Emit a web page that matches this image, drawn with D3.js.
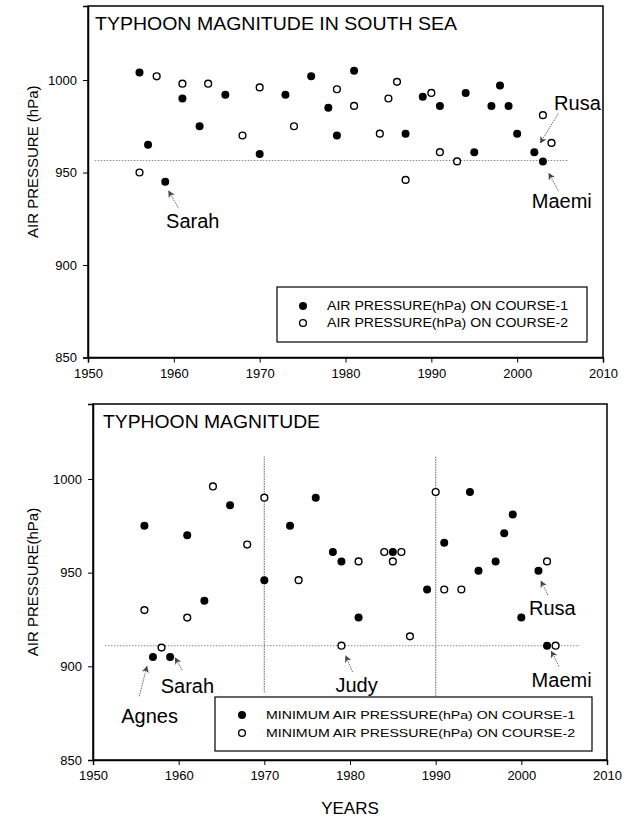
<!DOCTYPE html>
<html><head><meta charset="utf-8">
<script src="https://cdn.jsdelivr.net/npm/d3@7"></script>
<style>body{margin:0;background:#fff}svg{display:block}text{font-family:"Liberation Sans",Arial,sans-serif;fill:#000}</style>
</head><body><div id="chart"></div>
<script>
// ---------- data ----------
const xTicks = [1950, 1960, 1970, 1980, 1990, 2000, 2010];
const yTicks = [850, 900, 950, 1000];

// Top panel: typhoon magnitude in South Sea
const topCourse1Years = [1956,1957,1959,1961,1963,1966,1970,1973,1976,1978,1979,1981,1987,1989,1991,1994,1995,1997,1998,1999,2000,2002,2003];
const topCourse1Press = [1004,965,945,990,975,992,960,992,1002,985,970,1005,971,991,986,993,961,986,997,986,971,961,956];
const topCourse2Years = [1956,1958,1961,1964,1968,1970,1974,1979,1981,1984,1985,1986,1987,1990,1991,1993,2003,2004];
const topCourse2Press = [950,1002,998,998,970,996,975,995,986,971,990,999,946,993,961,956,981,966];

// Bottom panel: minimum air pressure
const botCourse1Years = [1956,1957,1959,1961,1963,1966,1970,1973,1976,1978,1979,1981,1985,1989,1991,1994,1995,1997,1998,1999,2000,2002,2003];
const botCourse1Press = [975,905,905,970,935,986,946,975,990,961,956,926,961,941,966,993,951,956,971,981,926,951,911];
const botCourse2Years = [1956,1958,1961,1964,1968,1970,1974,1979,1981,1984,1985,1986,1987,1990,1991,1993,2003,2004];
const botCourse2Press = [930,910,926,996,965,990,946,911,956,961,956,961,916,993,941,941,956,911];

const topTitle = "TYPHOON MAGNITUDE IN SOUTH SEA";
const botTitle = "TYPHOON MAGNITUDE";
const topLegend = ["AIR PRESSURE(hPa) ON COURSE-1", "AIR PRESSURE(hPa) ON COURSE-2"];
const botLegend = ["MINIMUM AIR PRESSURE(hPa) ON COURSE-1", "MINIMUM AIR PRESSURE(hPa) ON COURSE-2"];
const topYLabel = "AIR PRESSURE (hPa)";
const botYLabel = "AIR PRESSURE(hPa)";
const xLabel = "YEARS";

// reference lines (data units)
const topRefLine = {value: 956.5, from: 1950.8, to: 2005.9};
const botRefLine = {value: 911, from: 1951.4, to: 2006.8};
const botVLines = [{year: 1970, from: 886, to: 1012}, {year: 1990, from: 883, to: 1012}];

// annotations (data units): text anchor and arrow (from -> to)
const topNotes = [
  {name: "Sarah", tx: 1959.1, ty: 920, ax1: 1960.5, ay1: 931, ax2: 1959.4, ay2: 940},
  {name: "Rusa",  tx: 2004.3, ty: 984, ax1: 2004.8, ay1: 982, ax2: 2002.7, ay2: 966},
  {name: "Maemi", tx: 2001.7, ty: 931, ax1: 2004.8, ay1: 940, ax2: 2003.7, ay2: 949.5}
];
const botNotes = [
  {name: "Agnes", tx: 1953.3, ty: 869.5, ax1: 1955.4, ay1: 884, ax2: 1956.3, ay2: 900},
  {name: "Sarah", tx: 1957.9, ty: 886,   ax1: 1960.4, ay1: 898, ax2: 1959.6, ay2: 904.5},
  {name: "Judy",  tx: 1978.3, ty: 886.5, ax1: 1980.3, ay1: 897, ax2: 1979.5, ay2: 905.5},
  {name: "Rusa",  tx: 2000.9, ty: 927.5, ax1: 2003.1, ay1: 938, ax2: 2002.3, ay2: 945.5},
  {name: "Maemi", tx: 2001.2, ty: 889,   ax1: 2004.4, ay1: 900, ax2: 2003.5, ay2: 908}
];

// ---------- drawing ----------
const W = 632, H = 818;
const svg = d3.select("#chart").append("svg").attr("width", W).attr("height", H);
const defs = svg.append("defs");
defs.append("marker").attr("id", "arr").attr("viewBox", "0 0 10 10").attr("refX", 9).attr("refY", 5)
  .attr("markerWidth", 7).attr("markerHeight", 7).attr("orient", "auto")
  .append("path").attr("d", "M0,0 L10,5 L0,10 L3,5 Z").attr("fill", "#444");

function panel(cfg) {
  const x = d3.scaleLinear().domain([1950, 2010]).range([cfg.left, cfg.right]);
  const y = d3.scaleLinear().domain([850, 1040]).range([cfg.bottom, cfg.top]);
  const g = svg.append("g");

  // frame
  g.append("rect").attr("x", cfg.left).attr("y", cfg.top)
    .attr("width", cfg.right - cfg.left).attr("height", cfg.bottom - cfg.top)
    .attr("fill", "none").attr("stroke", "#000").attr("stroke-width", 1.5);

  // axes
  const ax = g.append("g").attr("transform", `translate(0,${cfg.bottom})`)
    .call(d3.axisBottom(x).tickValues(xTicks).tickFormat(d3.format("d")).tickSize(5).tickPadding(6));
  ax.select(".domain").attr("stroke-width", 1.5);
  ax.selectAll("text").style("font-size", "13px").style("font-family", "Liberation Sans, Arial, sans-serif");
  const ay = g.append("g").attr("transform", `translate(${cfg.left},0)`)
    .call(d3.axisLeft(y).tickValues(yTicks).tickFormat(d3.format("d")).tickSize(5).tickPadding(6));
  ay.select(".domain").attr("stroke-width", 1.5);
  ay.selectAll("text").style("font-size", "13px").style("font-family", "Liberation Sans, Arial, sans-serif");

  // title
  g.append("text").attr("x", cfg.left + cfg.titleDx).attr("y", cfg.top + 24)
    .style("font-size", "19px").attr("textLength", cfg.titleLen).attr("lengthAdjust", "spacingAndGlyphs")
    .text(cfg.title);

  // y label
  g.append("text").attr("transform", `translate(${cfg.yLabX},${(cfg.top + cfg.bottom) / 2 - cfg.yLabShift}) rotate(-90)`)
    .attr("text-anchor", "middle").style("font-size", "15px").text(cfg.yLabel);

  // horizontal reference line
  g.append("line").attr("x1", x(cfg.ref.from)).attr("x2", x(cfg.ref.to))
    .attr("y1", y(cfg.ref.value)).attr("y2", y(cfg.ref.value))
    .attr("stroke", "#888").attr("stroke-width", 1).attr("stroke-dasharray", "1.5,1.5");

  // vertical lines
  (cfg.vlines || []).forEach(v => {
    g.append("line").attr("x1", x(v.year)).attr("x2", x(v.year))
      .attr("y1", y(v.from)).attr("y2", y(v.to))
      .attr("stroke", "#888").attr("stroke-width", 1.3).attr("stroke-dasharray", "1.5,1");
  });

  // points
  const c1 = cfg.c1Years.map((yr, i) => ({yr, p: cfg.c1Press[i]}));
  const c2 = cfg.c2Years.map((yr, i) => ({yr, p: cfg.c2Press[i]}));
  g.selectAll(".c2").data(c2).enter().append("circle")
    .attr("cx", d => x(d.yr)).attr("cy", d => y(d.p)).attr("r", 3.4)
    .attr("fill", "#fff").attr("stroke", "#000").attr("stroke-width", 1.4);
  g.selectAll(".c1").data(c1).enter().append("circle")
    .attr("cx", d => x(d.yr)).attr("cy", d => y(d.p)).attr("r", 4)
    .attr("fill", "#000");

  // annotations
  cfg.notes.forEach(n => {
    g.append("line").attr("x1", x(n.ax1)).attr("y1", y(n.ay1)).attr("x2", x(n.ax2)).attr("y2", y(n.ay2))
      .attr("stroke", "#666").attr("stroke-width", 1).attr("stroke-dasharray", "1.5,1")
      .attr("marker-end", "url(#arr)");
    g.append("text").attr("x", x(n.tx)).attr("y", y(n.ty)).style("font-size", "20px").text(n.name);
  });

  // legend
  const L = cfg.legend;
  const lg = g.append("g");
  lg.append("rect").attr("x", L.x).attr("y", L.y).attr("width", L.w).attr("height", L.h)
    .attr("fill", "#fff").attr("stroke", "#000").attr("stroke-width", 1.2);
  cfg.legendText.forEach((t, i) => {
    const yy = L.y + L.row0 + i * L.rowGap;
    if (i === 0) lg.append("circle").attr("cx", L.x + L.symDx).attr("cy", yy).attr("r", 4).attr("fill", "#000");
    else lg.append("circle").attr("cx", L.x + L.symDx).attr("cy", yy).attr("r", 3.4).attr("fill", "#fff").attr("stroke", "#000").attr("stroke-width", 1.4);
    lg.append("text").attr("x", L.x + L.textDx).attr("y", yy + 4).style("font-size", L.fs + "px")
      .attr("textLength", L.textLen).attr("lengthAdjust", "spacingAndGlyphs").text(t);
  });
  return {x, y};
}

panel({
  left: 88, right: 603, top: 6, bottom: 357.5,
  title: topTitle, titleDx: 7, titleLen: 362,
  yLabel: topYLabel, yLabX: 38, yLabShift: 20,
  ref: topRefLine,
  c1Years: topCourse1Years, c1Press: topCourse1Press,
  c2Years: topCourse2Years, c2Press: topCourse2Press,
  notes: topNotes,
  legend: {x: 277, y: 287, w: 310, h: 55, row0: 19, rowGap: 17, symDx: 26, textDx: 50, fs: 12.5, textLen: 241},
  legendText: topLegend
});

panel({
  left: 93, right: 607, top: 404, bottom: 760,
  title: botTitle, titleDx: 10, titleLen: 217,
  yLabel: botYLabel, yLabX: 38, yLabShift: 0,
  ref: botRefLine, vlines: botVLines,
  c1Years: botCourse1Years, c1Press: botCourse1Press,
  c2Years: botCourse2Years, c2Press: botCourse2Press,
  notes: botNotes,
  legend: {x: 215, y: 697, w: 377, h: 54, row0: 18, rowGap: 18, symDx: 27, textDx: 51, fs: 11, textLen: 309},
  legendText: botLegend
});

svg.append("text").attr("x", 350).attr("y", 814).attr("text-anchor", "middle")
  .style("font-size", "17px").text(xLabel);
</script></body></html>
